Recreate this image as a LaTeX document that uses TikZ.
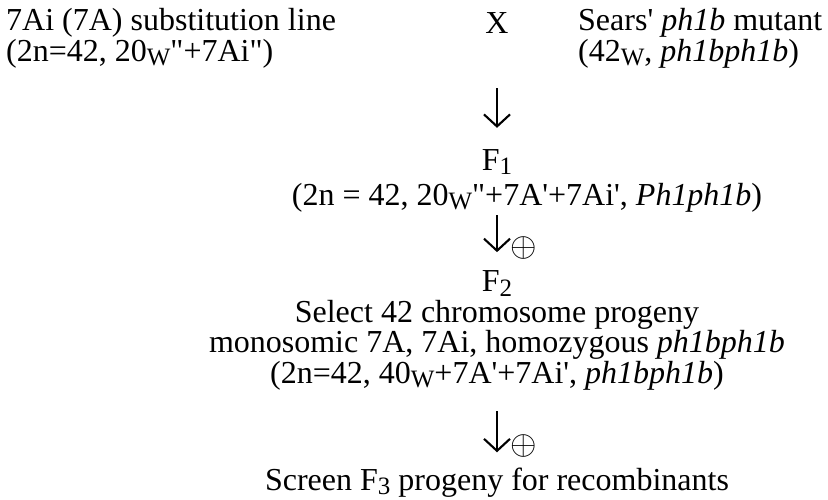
\documentclass[tikz,border=0pt]{standalone}
\usepackage{fontspec}
\setmainfont{Liberation Serif}
\usetikzlibrary{arrows.meta}
\newcommand{\lo}[1]{\raisebox{-0.15em}{\fontsize{25}{25}\selectfont #1}}
\newcommand{\pr}{\textquotesingle}
\newcommand{\dq}{\textquotedbl}

\begin{document}
\begin{tikzpicture}[x=1pt,y=-1pt,
    every node/.style={inner sep=0pt,font=\fontsize{32}{27.5}\selectfont},
    flow/.style={-{Straight Barb[length=12pt,width=26pt]},line width=2.1pt},
    selfing/.style={font=\normalsize}]
    \useasboundingbox (0,0) rectangle (828,499);
    % nodes (anchor base = baseline of the last line)
    \node (sub) at (6,61) [anchor=base west,align=left] {7Ai (7A) substitution line\\(2n=42, 20\lo{W}\dq+7Ai\dq)};
    \node (cross) at (497,33) [anchor=base] {X};
    \node (sears) at (578,61) [anchor=base west,align=left] {Sears\pr{} \textit{ph1b} mutant\\(42\lo{W}, \textit{ph1bph1b})};
    \node (f1) at (497,170) [anchor=base] {F\lo{1}};
    \node (f1gen) at (527,205) [anchor=base] {(2n = 42, 20\lo{W}\dq+7A\pr+7Ai\pr, \textit{Ph1ph1b})};
    \node (f2) at (497,383) [anchor=base,align=center] {F\lo{2}\\[4pt]Select 42 chromosome progeny\\monosomic 7A, 7Ai, homozygous \textit{ph1bph1b}\\(2n=42, 40\lo{W}+7A\pr+7Ai\pr, \textit{ph1bph1b})};
    \node (f3) at (497,490) [anchor=base] {Screen F\lo{3} progeny for recombinants};
    % paths
    \draw[flow,shorten <=3pt,shorten >=21pt] (cross.south) ++(0,52) coordinate (a1) (a1) -- (f1);
    \draw[flow,shorten <=3pt,shorten >=18pt] (f2.north |- f1gen.south) -- node[pos=0.62,right=12pt,selfing] {\scalebox{3.4}{$\oplus$}} (f2.north);
    \draw[flow,shorten <=21pt,shorten >=15pt] (f2) -- node[pos=0.72,right=12pt,selfing] {\scalebox{3.4}{$\oplus$}} (f3);
\end{tikzpicture}
\end{document}
